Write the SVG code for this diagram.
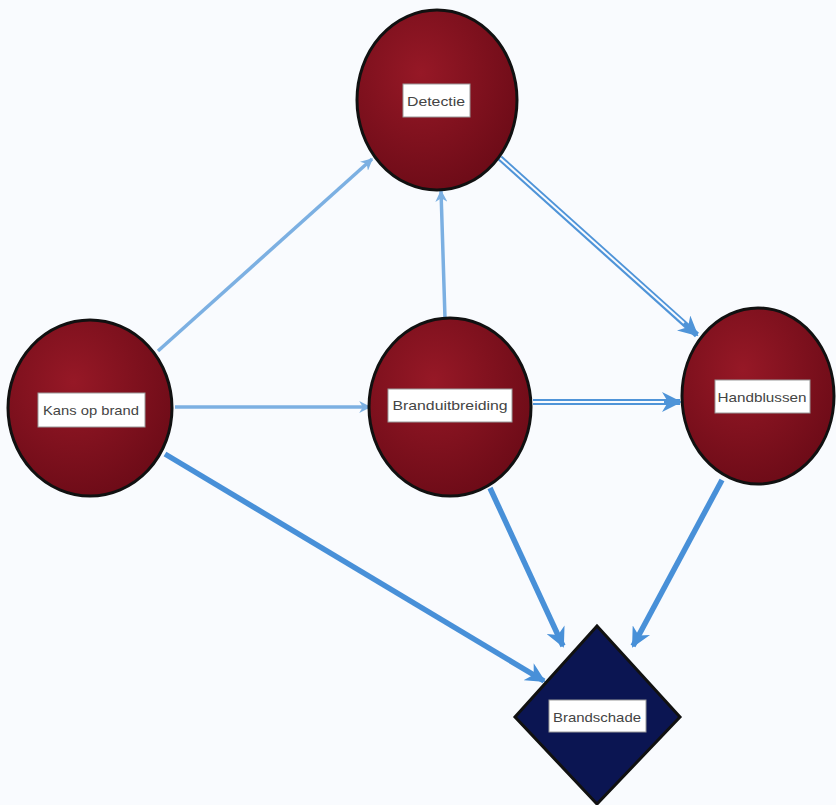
<svg xmlns="http://www.w3.org/2000/svg" width="836" height="805" viewBox="0 0 836 805">
<defs>
<radialGradient id="red" cx="40%" cy="35%" r="70%">
<stop offset="0" stop-color="#961826"/>
<stop offset="1" stop-color="#6c0b17"/>
</radialGradient>
<marker id="ahT" viewBox="0 0 10 10" refX="9" refY="5" markerWidth="12" markerHeight="12" orient="auto" markerUnits="userSpaceOnUse">
<path d="M0,0 L10,5 L0,10 L3,5 z" fill="#7cb0e2"/>
</marker>
<marker id="ahD" viewBox="0 0 10 10" refX="9" refY="5" markerWidth="20" markerHeight="20" orient="auto" markerUnits="userSpaceOnUse">
<path d="M0,0 L10,5 L0,10 L3,5 z" fill="#4f94d8"/>
</marker>
<marker id="ahK" viewBox="0 0 10 10" refX="9" refY="5" markerWidth="20" markerHeight="20" orient="auto" markerUnits="userSpaceOnUse">
<path d="M0,0 L10,5 L0,10 L3,5 z" fill="#4890d8"/>
</marker>
</defs>
<style>
.node{fill:url(#red);stroke:#111;stroke-width:3}
.dia{fill:#0b1552;stroke:#111;stroke-width:3}
.lbl{fill:#fff;stroke:#999;stroke-width:1}
.t{font-family:"Liberation Sans",Arial,sans-serif;font-size:13px;font-weight:500;fill:#444;text-anchor:middle;dominant-baseline:central}
.thin{stroke:#7cb0e2;stroke-width:3.5;fill:none}
.thick{stroke:#4890d8;stroke-width:5.5;fill:none}
.dbl{stroke:#4f94d8;stroke-width:6;fill:none}
.gap{stroke:#f9fbfe;stroke-width:2;fill:none}
</style>
<rect width="836" height="805" fill="#f9fbfe"/>
<g id="connectors">
<line class="thin" x1="158" y1="351" x2="372" y2="159" marker-end="url(#ahT)"/>
<line class="thin" x1="175" y1="407" x2="370" y2="407" stroke-width="4.5" marker-end="url(#ahT)"/>
<line class="thin" x1="445" y1="318" x2="441" y2="191" marker-end="url(#ahT)"/>
<line class="dbl" x1="500" y1="158" x2="697" y2="335" marker-end="url(#ahD)"/>
<line class="gap" x1="500" y1="158" x2="684" y2="323"/>
<line class="dbl" x1="533" y1="402" x2="680" y2="402" marker-end="url(#ahD)"/>
<line class="gap" x1="533" y1="402" x2="664" y2="402"/>
<line class="thick" x1="165" y1="454" x2="544" y2="681" marker-end="url(#ahK)"/>
<line class="thick" x1="490" y1="488" x2="563" y2="646" marker-end="url(#ahK)"/>
<line class="thick" x1="722" y1="480" x2="633" y2="646" marker-end="url(#ahK)"/>
</g>
<g id="detectie">
<ellipse class="node" cx="437" cy="100" rx="80" ry="90"/>
<rect class="lbl" x="403" y="84" width="67" height="33"/>
<text class="t" x="436" y="101" textLength="58" lengthAdjust="spacingAndGlyphs">Detectie</text>
</g>
<g id="kans-op-brand">
<ellipse class="node" cx="90" cy="408" rx="82" ry="88"/>
<rect class="lbl" x="38" y="393" width="107" height="34"/>
<text class="t" x="91" y="410" textLength="96" lengthAdjust="spacingAndGlyphs">Kans op brand</text>
</g>
<g id="branduitbreiding">
<ellipse class="node" cx="450" cy="407" rx="81" ry="89"/>
<rect class="lbl" x="388" y="389" width="124" height="33"/>
<text class="t" x="450" y="405" textLength="115" lengthAdjust="spacingAndGlyphs">Branduitbreiding</text>
</g>
<g id="handblussen">
<ellipse class="node" cx="758" cy="396" rx="76" ry="88"/>
<rect class="lbl" x="715" y="380" width="95" height="33"/>
<text class="t" x="762" y="397" textLength="89" lengthAdjust="spacingAndGlyphs">Handblussen</text>
</g>
<g id="brandschade">
<polygon class="dia" points="597,626 680,717 597,804 515,717"/>
<rect class="lbl" x="549" y="700" width="97" height="32"/>
<text class="t" x="597" y="717" textLength="88" lengthAdjust="spacingAndGlyphs">Brandschade</text>
</g>
</svg>
